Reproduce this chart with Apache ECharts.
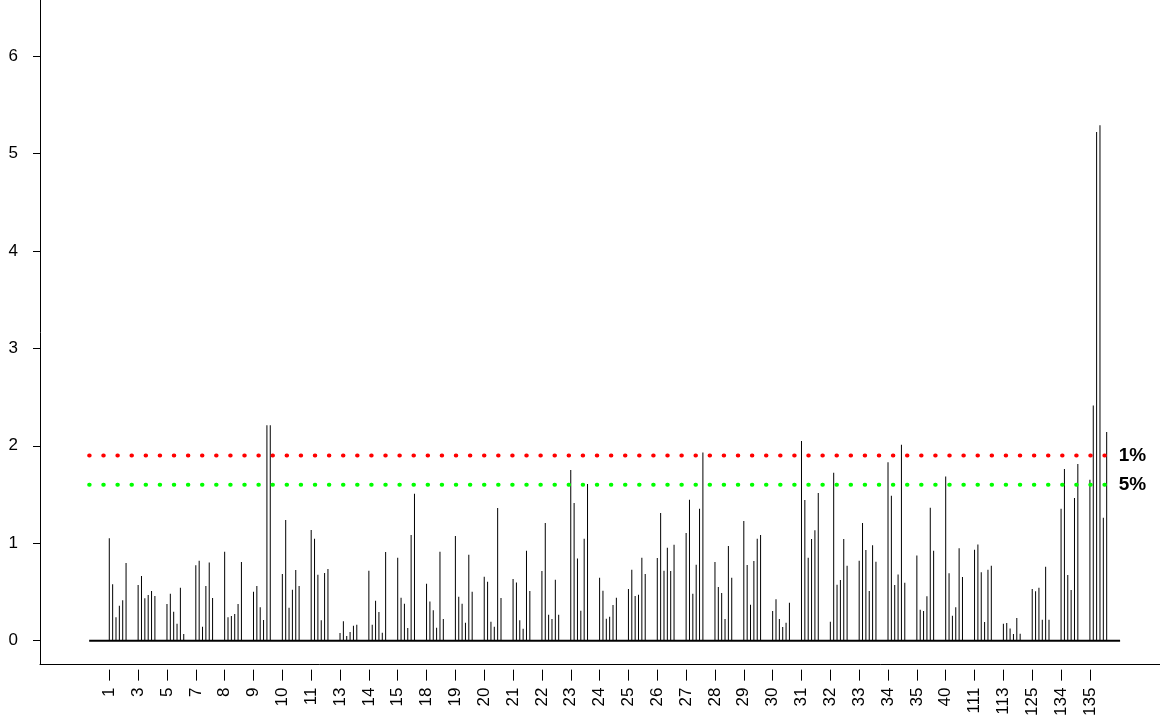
<!DOCTYPE html>
<html>
<head>
<meta charset="utf-8">
<script src="https://cdn.jsdelivr.net/npm/echarts@6/dist/echarts.min.js"></script>
<style>
  html, body { margin: 0; padding: 0; background: #fff; }
  #chart { width: 1160px; height: 719px; }
</style>
</head>
<body>
<div id="chart"></div>
<script>
// Linkage-group labels shown under the x axis
const groupLabels = ['1','3','5','7','8','9','10','11','13','14','15','18','19','20','21','22','23','24',
  '25','26','27','28','29','30','31','32','33','34','35','40','111','113','125','134','135'];

// LOD score of each marker, six markers per linkage group
const lodByGroup = [
  [1.05, 0.578, 0.239, 0.359, 0.414, 0.797],
  [0.571, 0.663, 0.434, 0.468, 0.509, 0.458],
  [0.376, 0.482, 0.297, 0.174, 0.544, 0.068],
  [0.773, 0.821, 0.144, 0.561, 0.803, 0.438],
  [0.913, 0.239, 0.253, 0.274, 0.376, 0.807],
  [0.503, 0.561, 0.342, 0.212, 2.21, 2.21],
  [0.684, 1.238, 0.338, 0.523, 0.725, 0.561],
  [1.135, 1.046, 0.677, 0.209, 0.694, 0.735],
  [0.079, 0.198, 0.048, 0.089, 0.154, 0.164],
  [0.718, 0.164, 0.41, 0.294, 0.082, 0.909],
  [0.851, 0.441, 0.379, 0.13, 1.084, 1.508],
  [0.585, 0.403, 0.311, 0.133, 0.913, 0.222],
  [1.074, 0.451, 0.379, 0.185, 0.882, 0.503],
  [0.656, 0.605, 0.195, 0.144, 1.361, 0.438],
  [0.632, 0.598, 0.209, 0.123, 0.923, 0.509],
  [0.715, 1.207, 0.267, 0.222, 0.626, 0.267],
  [1.75, 1.412, 0.844, 0.308, 1.046, 1.607],
  [0.646, 0.513, 0.226, 0.246, 0.366, 0.441],
  [0.53, 0.728, 0.458, 0.472, 0.851, 0.684],
  [0.848, 1.309, 0.718, 0.954, 0.715, 0.985],
  [1.104, 1.446, 0.482, 0.779, 1.354, 1.93],
  [0.807, 0.55, 0.489, 0.222, 0.971, 0.646],
  [1.227, 0.776, 0.369, 0.817, 1.046, 1.084],
  [0.304, 0.424, 0.222, 0.14, 0.185, 0.39],
  [2.048, 1.443, 0.851, 1.043, 1.132, 1.515],
  [0.195, 1.723, 0.574, 0.622, 1.043, 0.769],
  [0.821, 1.207, 0.93, 0.509, 0.978, 0.81],
  [1.832, 1.487, 0.571, 0.68, 2.01, 0.595],
  [0.875, 0.318, 0.304, 0.455, 1.364, 0.923],
  [1.685, 0.691, 0.256, 0.342, 0.947, 0.653],
  [0.933, 0.988, 0.701, 0.191, 0.728, 0.769],
  [0.174, 0.181, 0.126, 0.068, 0.232, 0.072],
  [0.53, 0.506, 0.544, 0.215, 0.759, 0.215],
  [1.354, 1.761, 0.674, 0.52, 1.463, 1.812],
  [1.651, 2.414, 5.22, 5.29, 1.262, 2.14]
];

// Genome-wide significance thresholds
const thresholdNames = ['1%', '5%'];
const thresholdLevels = [1.9, 1.6];
const thresholdColors = ['#ff0000', '#00ff00'];

const yTickValues = [0, 1, 2, 3, 4, 5, 6];

// Layout along the x axis: markers one unit apart, groups GROUP_STEP apart
const GROUP_STEP = 8.6;
const groupStart = groupLabels.map((_, g) => g * GROUP_STEP);

const markerPoints = [];
lodByGroup.forEach((vals, g) => {
  vals.forEach((v, k) => markerPoints.push([groupStart[g] + k, v]));
});
const firstX = markerPoints[0][0];
const lastX = markerPoints[markerPoints.length - 1][0];
const lineStart = firstX - 6;

const X_MIN = -20.66, X_MAX = 313.3;
const FONT = "'Liberation Sans', Arial, Helvetica, sans-serif";

const series = [
  {
    type: 'bar',
    xAxisIndex: 0,
    data: markerPoints,
    barWidth: 1,
    itemStyle: { color: '#000' },
    silent: true,
    z: 2
  },
  {
    type: 'line',
    xAxisIndex: 0,
    data: [[lineStart, 0], [lastX + 4, 0]],
    symbol: 'none',
    lineStyle: { color: '#000', width: 2 },
    silent: true,
    z: 3
  }
];

thresholdLevels.forEach((lvl, i) => {
  series.push({
    type: 'line',
    xAxisIndex: 0,
    data: [[lineStart, lvl], [lastX, lvl]],
    symbol: 'none',
    lineStyle: { color: thresholdColors[i], width: 4, type: [0.5, 13.6], cap: 'round' },
    endLabel: {
      show: true,
      formatter: thresholdNames[i],
      distance: 12,
      color: '#000',
      fontSize: 19,
      fontWeight: 'bold',
      fontFamily: FONT
    },
    silent: true,
    z: 4
  });
});

const chart = echarts.init(document.getElementById('chart'), null, { renderer: 'canvas' });
chart.setOption({
  animation: false,
  backgroundColor: '#fff',
  grid: { left: 40, right: 0, top: 0, bottom: 54, containLabel: false },
  xAxis: [
    {
      type: 'value', min: X_MIN, max: X_MAX, position: 'bottom',
      axisLine: { show: true, onZero: false, lineStyle: { color: '#000', width: 1 } },
      axisTick: { show: false }, axisLabel: { show: false }, splitLine: { show: false }
    },
    {
      type: 'value', min: X_MIN, max: X_MAX, position: 'bottom', offset: 5,
      axisLine: { show: false, onZero: false },
      axisTick: { show: true, customValues: groupStart, length: 11, lineStyle: { color: '#000', width: 1 } },
      axisLabel: {
        show: true, customValues: groupStart, rotate: 90, margin: 18,
        color: '#000', fontSize: 17, fontFamily: FONT,
        formatter: v => groupLabels[Math.round(v / GROUP_STEP)]
      },
      splitLine: { show: false }
    }
  ],
  yAxis: {
    type: 'value', min: -0.246, max: 6.574,
    axisLine: { show: true, onZero: false, lineStyle: { color: '#000', width: 1 } },
    axisTick: { show: true, customValues: yTickValues, length: 7, lineStyle: { color: '#000' } },
    axisLabel: { show: true, customValues: yTickValues, margin: 22, color: '#000', fontSize: 17, fontFamily: FONT },
    splitLine: { show: false }
  },
  series: series
});
</script>
</body>
</html>
